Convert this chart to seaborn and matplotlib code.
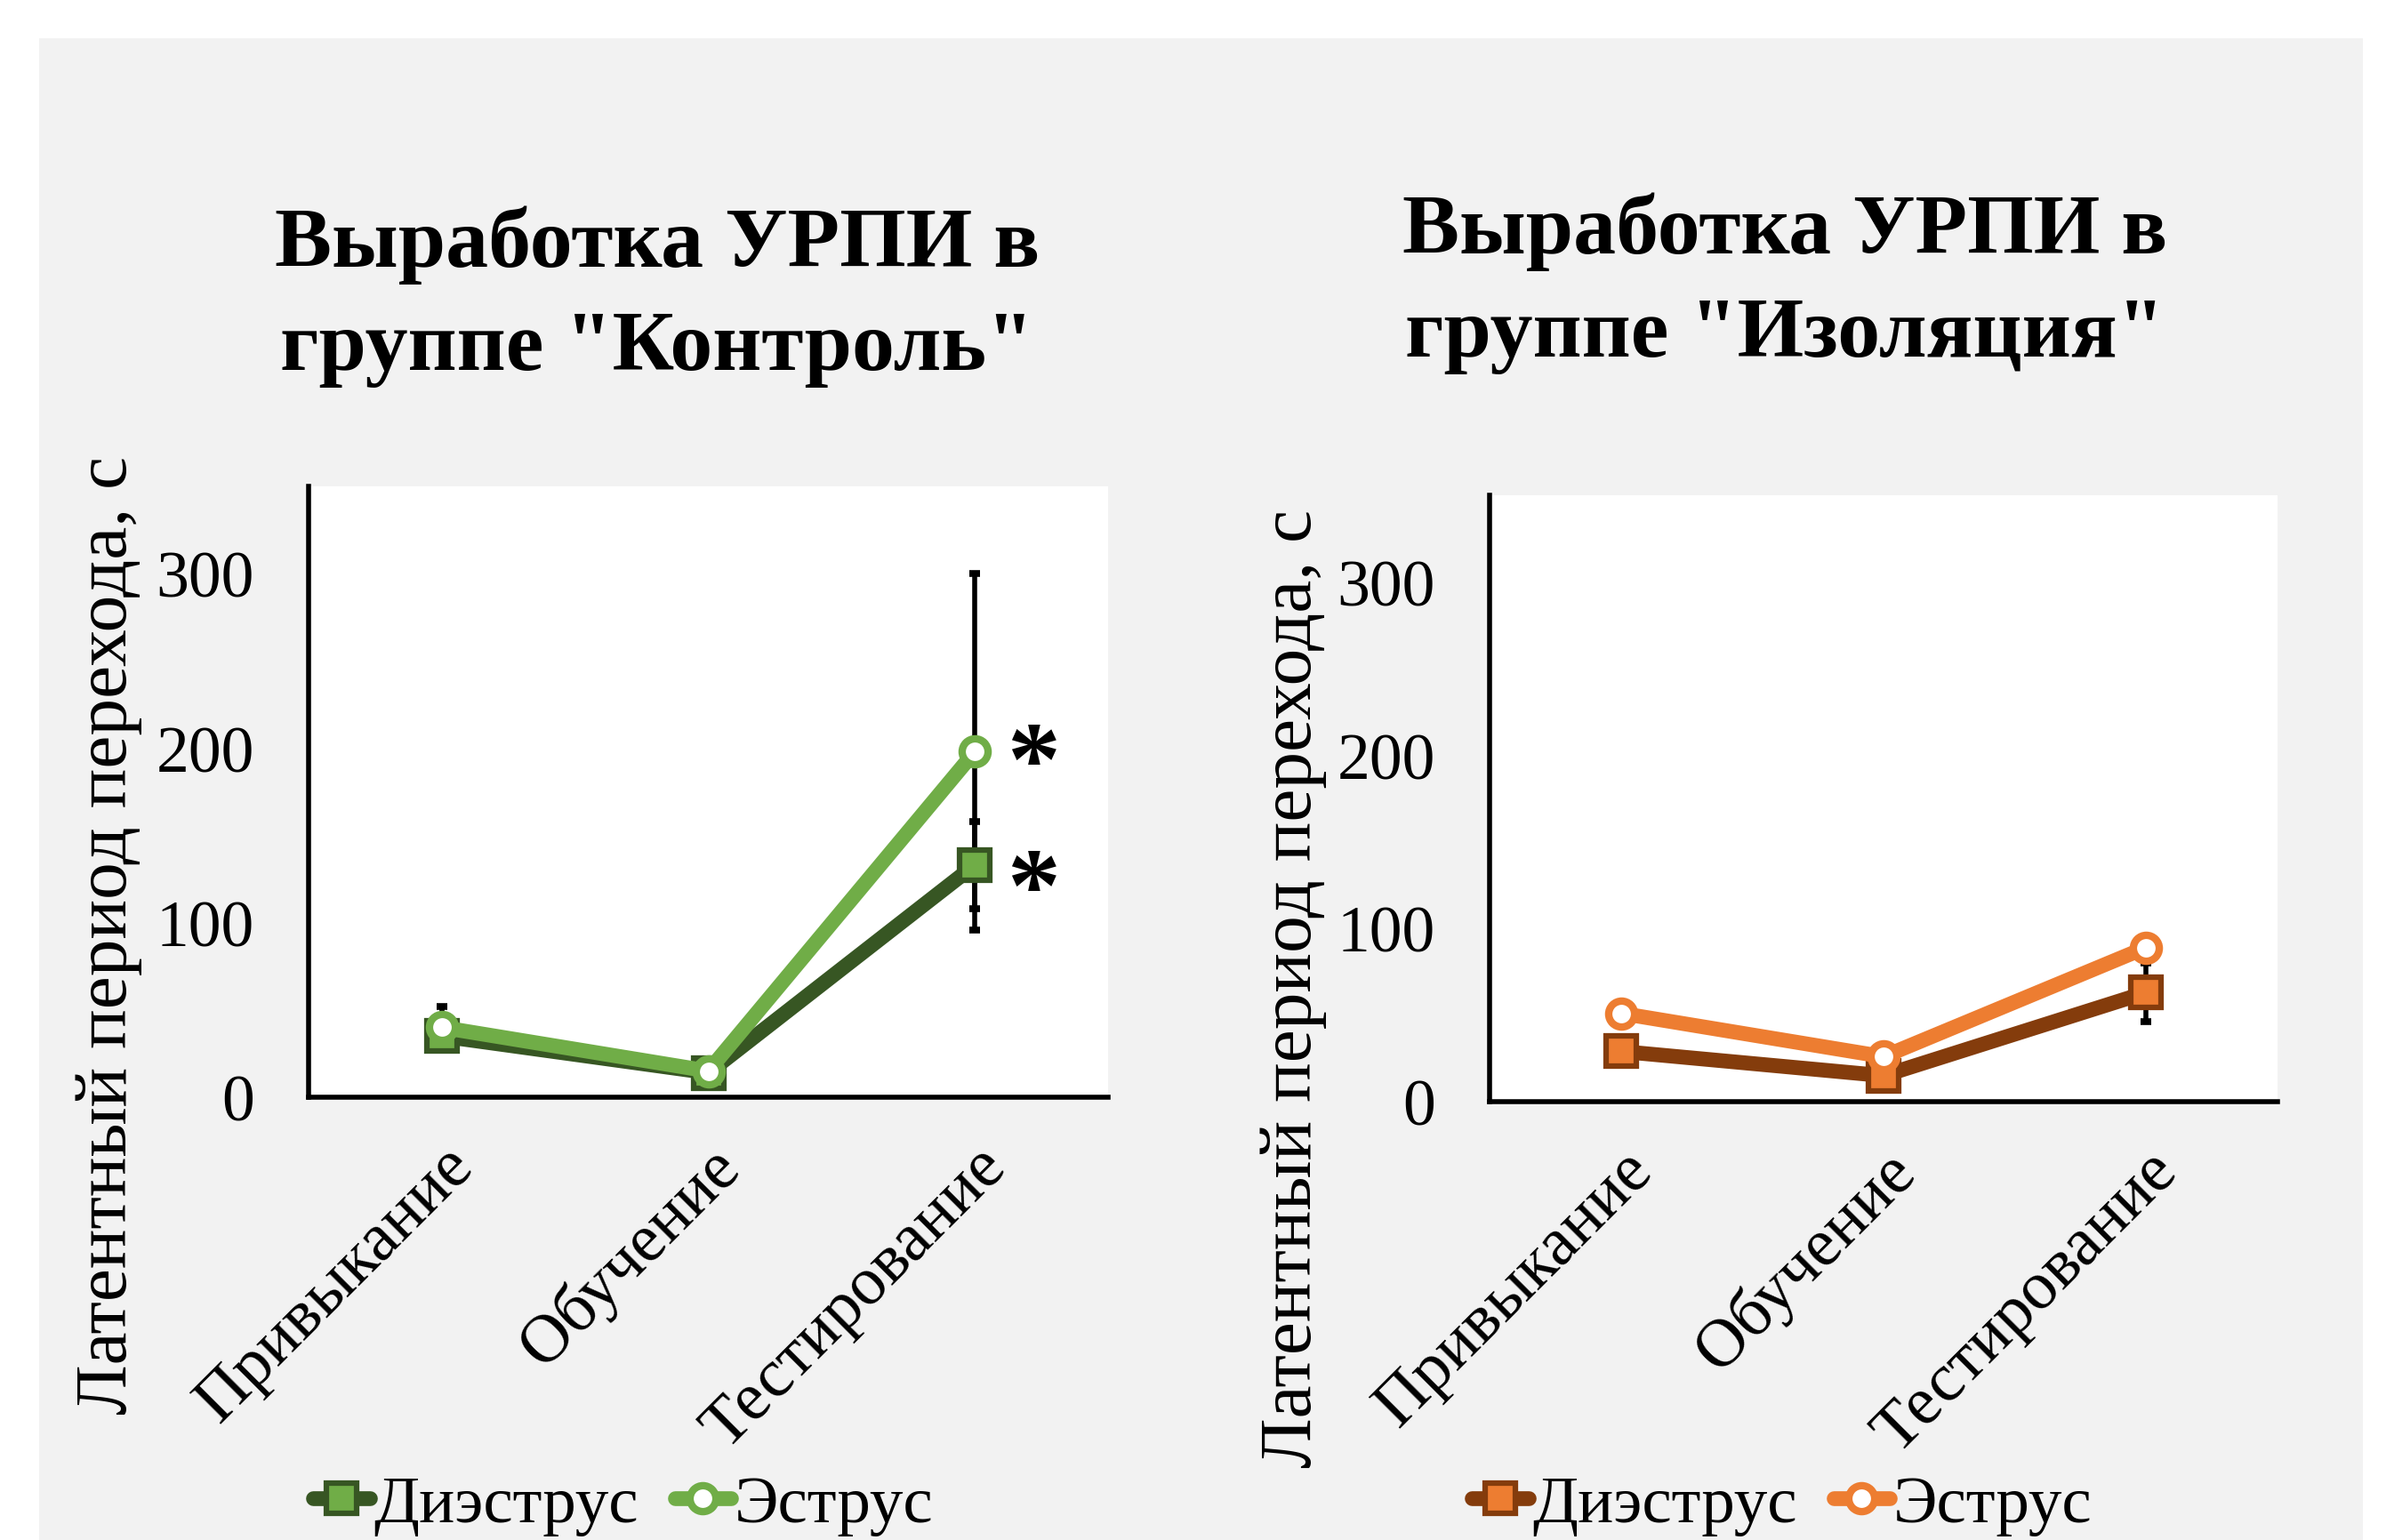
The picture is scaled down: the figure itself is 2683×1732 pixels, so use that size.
import numpy as np
import matplotlib
matplotlib.use("Agg")
import matplotlib.pyplot as plt
from matplotlib.patches import Rectangle
import seaborn as sns

# Experiment stages (x axis) and estrous-cycle phases (series)
stages = ["Привыкание", "Обучение", "Тестирование"]
phases = ["Диэструс", "Эструс"]

# Group "Контроль": mean latency, s, and error bar half-widths
control_diestrus = [35, 14, 133]
control_diestrus_err = [np.nan, np.nan, 25]
control_estrus = [40, 15, 198]
control_estrus_err = [12, np.nan, 102]
control_stars = ["", "", "*"]          # marks next to the test-day points

# Group "Изоляция"
isolation_diestrus = [29, 15, 63]
isolation_diestrus_err = [np.nan, np.nan, 17]
isolation_estrus = [51, 26, 89]
isolation_estrus_err = [np.nan, np.nan, np.nan]
isolation_stars = ["", "", ""]

titles = ['Выработка УРПИ в\nгруппе "Контроль"',
          'Выработка УРПИ в\nгруппе "Изоляция"']
ylabel_text = "Латентный период перехода, с"
yticks = [0, 100, 200, 300]

sns.set_style("white")
plt.rcParams["font.family"] = ["Liberation Serif", "DejaVu Serif"]
plt.rcParams.update({"text.color": "black", "axes.labelcolor": "black",
                     "xtick.color": "black", "ytick.color": "black"})

W, H, DPI = 2683, 1733, 100
fig = plt.figure(figsize=(W / DPI, H / DPI), dpi=DPI, facecolor="white")

# light-grey chart area
fig.patches.append(Rectangle((44 / W, 0), (2657 - 44) / W, (H - 44) / H,
                             transform=fig.transFigure, facecolor="#f2f2f2",
                             edgecolor="none", zorder=-10))


def draw_panel(ax, diestrus, d_err, estrus, e_err, stars, dark, light,
               title, title_xy, ylabel_xy, legend_xy):
    x = np.arange(len(stages))
    for vals, err in ((diestrus, d_err), (estrus, e_err)):
        vals = np.asarray(vals, float)
        err = np.asarray(err, float)
        m = ~np.isnan(err)
        if m.any():
            ax.errorbar(x[m], vals[m], yerr=err[m], fmt="none", ecolor="black",
                        elinewidth=4, capsize=4.5, capthick=5.5, zorder=2)

    sns.lineplot(x=x, y=diestrus, ax=ax, color=dark, linewidth=12, marker="s",
                 markersize=24, markerfacecolor=light, markeredgecolor=dark,
                 markeredgewidth=4.5, label=phases[0], zorder=3)
    sns.lineplot(x=x, y=estrus, ax=ax, color=light, linewidth=12, marker="o",
                 markersize=21, markerfacecolor="white", markeredgecolor=light,
                 markeredgewidth=6, label=phases[1], zorder=4)

    for xi, s, d, e in zip(x, stars, diestrus, estrus):
        if s:
            for v in (e - 10, d - 17):
                ax.text(xi + 0.22, v, s, fontsize=86, fontweight="bold",
                        ha="center", va="center", zorder=5)

    ax.set_xlim(-0.5, len(stages) - 0.5)
    ax.set_ylim(0, 350)
    ax.set_yticks(yticks)
    ax.set_xticks(x, stages)
    for lbl in ax.get_xticklabels():
        lbl.set(rotation=45, ha="right", va="top", rotation_mode="anchor")
    ax.tick_params(axis="x", length=0, pad=30, labelsize=55)
    ax.tick_params(axis="y", length=0, pad=44, labelsize=53)
    ax.set_facecolor("white")
    for side in ("top", "right"):
        ax.spines[side].set_visible(False)
    for side in ("left", "bottom"):
        ax.spines[side].set_color("black")
        ax.spines[side].set_linewidth(4)

    ax.set_xlabel("")
    ax.set_ylabel(ylabel_text, fontsize=60)
    ax.yaxis.set_label_coords(*ylabel_xy)
    ax.yaxis.label.set(va="center", ha="center")

    ax.set_title(title, fontsize=69, fontweight="bold", x=title_xy[0],
                 y=title_xy[1], va="center", linespacing=1.45)

    handles, labels = ax.get_legend_handles_labels()
    ax.legend(handles, labels, loc="center", bbox_to_anchor=legend_xy,
              bbox_transform=fig.transFigure, ncol=2, frameon=False,
              fontsize=54, handlelength=0.85, handletextpad=0.05,
              columnspacing=0.55, borderaxespad=0)


ax1 = fig.add_axes([347 / W, 1 - 1235 / H, (1246 - 347) / W, (1235 - 548) / H])
ax2 = fig.add_axes([1675 / W, 1 - 1240 / H, (2561 - 1675) / W, (1240 - 558) / H])

draw_panel(ax1, control_diestrus, control_diestrus_err, control_estrus,
           control_estrus_err, control_stars, "#375623", "#70ad47", titles[0],
           (0.436, 1.30), (-0.25, 0.266), (701 / W, 1 - 1694 / H))
draw_panel(ax2, isolation_diestrus, isolation_diestrus_err, isolation_estrus,
           isolation_estrus_err, isolation_stars, "#843c0c", "#ed7d31", titles[1],
           (0.375, 1.339), (-0.249, 0.188), (2004 / W, 1 - 1694 / H))

fig.savefig("out.png", dpi=DPI, facecolor="white")
